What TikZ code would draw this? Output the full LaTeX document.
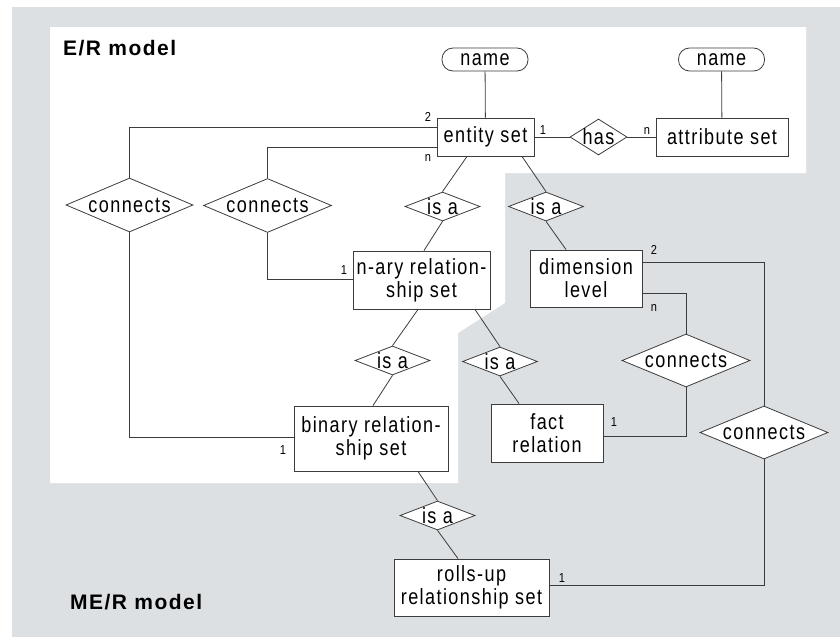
\documentclass[tikz,border=0pt]{standalone}
\usepackage{fontspec}
\setmainfont{Liberation Sans}
\newfontfamily\lsp[LetterSpace=6.5,FakeStretch=0.82]{Liberation Sans}
\newfontfamily\lsc[FakeStretch=0.85]{Liberation Sans}
\newfontfamily\lst[LetterSpace=7]{Liberation Sans}
\usetikzlibrary{shapes.geometric}
\definecolor{bggray}{RGB}{221,224,226}
\definecolor{ln}{RGB}{60,60,60}
\begin{document}
\begin{tikzpicture}[x=1pt,y=-1pt,
  txt/.style={font=\lsp\fontsize{22}{23}\selectfont},
  ebox/.style 2 args={rectangle, draw=ln, line width=0.9pt, fill=white, minimum width=#1, minimum height=#2, inner sep=0pt, align=center, txt},
  dia/.style 2 args={diamond, draw=ln, line width=0.8pt, fill=white, minimum width=#1, minimum height=#2, inner sep=0pt},
  pill/.style={rectangle, rounded corners=11pt, draw=ln, line width=0.8pt, fill=white, minimum width=86pt, minimum height=23pt, inner sep=0pt, txt},
  conn/.style={draw=ln, line width=0.8pt},
  card/.style={font=\lsc\fontsize{13}{14}\selectfont, inner sep=0pt},
  title/.style={font=\lst\fontsize{21}{24}\selectfont\bfseries, anchor=west, inner sep=0pt},
  dlab/.style={label={[txt,inner sep=0pt]center:#1}}
]
\useasboundingbox (0,0) rectangle (840,637);
\fill[bggray] (12,7) rectangle (840,637);
\fill[white] (50,27) -- (806,27) -- (806,173) -- (505,173) -- (505,303) -- (458,333) -- (458,483) -- (50,483) -- cycle;

\node[title] (ertitle) at (63,48) {E/R model};
\node[title] (mertitle) at (70,602) {ME/R model};

\node[pill] (name1) at (485,59.5) {name};
\node[pill] (name2) at (721.5,59.5) {name};
\node[ebox={97pt}{38pt}] (entity) at (485.5,137) {entity set};
\node[dia={57pt}{36pt}, dlab=has] (has) at (598.5,137) {};
\node[ebox={132pt}{38pt}] (attr) at (722,137) {attribute set};
\node[dia={127pt}{54pt}, dlab=connects] (conn1) at (129.5,205) {};
\node[dia={128pt}{54pt}, dlab=connects] (conn2) at (267.5,205.5) {};
\node[dia={75pt}{29pt}, dlab={is a}] (isa1) at (442.5,206.5) {};
\node[dia={75pt}{29pt}, dlab={is a}] (isa2) at (546,206.5) {};
\node[ebox={137pt}{58pt}] (nary) at (421.5,280) {n-ary relation-\\ship set};
\node[ebox={112pt}{57pt}] (dim) at (586,278.5) {dimension\\level};
\node[dia={75pt}{29pt}, dlab={is a}] (isa3) at (392.5,360.5) {};
\node[dia={75pt}{29pt}, dlab={is a}] (isa4) at (500,361.5) {};
\node[dia={128pt}{53pt}, dlab=connects] (conn3) at (686,360.5) {};
\node[ebox={154pt}{65pt}] (binary) at (371,438.5) {binary relation-\\ship set};
\node[ebox={112pt}{58pt}] (fact) at (547,433) {fact\\relation};
\node[dia={128pt}{53pt}, dlab=connects] (conn4) at (764,432.5) {};
\node[dia={75pt}{29pt}, dlab={is a}] (isa5) at (437.5,515.5) {};
\node[ebox={155pt}{57pt}] (rolls) at (471.5,587.5) {rolls-up\\relationship set};

% connectors
\draw[conn] (name1) -- (entity);
\draw[conn] (name2) -- (attr);
\draw[conn] (entity.east) -- (has.west);
\draw[conn] (has.east) -- (attr.west);
\draw[conn] (conn1.north) |- ([yshift=10pt]entity.west);
\draw[conn] (conn2.north) |- ([yshift=-10pt]entity.west);
\draw[conn] (conn1.south) |- ([yshift=1.5pt]binary.west);
\draw[conn] (conn2.south) |- ([yshift=1pt]nary.west);
\draw[conn] ([xshift=-18.5pt]entity.south) -- (isa1.north);
\draw[conn] ([xshift=36.5pt]entity.south) -- (isa2.north);
\draw[conn] (isa1.south) -- ([xshift=2.5pt]nary.north);
\draw[conn] (isa2.south) -- ([xshift=-20pt]dim.north);
\draw[conn] ([xshift=-3.5pt]nary.south) -- (isa3.north);
\draw[conn] (isa3.south) -- ([xshift=2pt]binary.north);
\draw[conn] ([xshift=53.5pt]nary.south) -- (isa4.north);
\draw[conn] (isa4.south) -- ([xshift=-28pt]fact.north);
\draw[conn] ([xshift=47pt]binary.south) -- (isa5.north);
\draw[conn] (isa5.south) -- ([xshift=-13.5pt]rolls.north);
\draw[conn] ([yshift=16.5pt]dim.east) -| (conn4.north);
\draw[conn] ([yshift=-14.5pt]dim.east) -| (conn3.north);
\draw[conn] ([yshift=-3pt]fact.east) -| (conn3.south);
\draw[conn] ([yshift=2.5pt]rolls.east) -| (conn4.south);

% cardinalities
\node[card] (k1) at (428,117) {2};
\node[card] (k2) at (428,158) {n};
\node[card] (k3) at (543,130) {1};
\node[card] (k4) at (647,131) {n};
\node[card] (k5) at (344,270) {1};
\node[card] (k6) at (283,450) {1};
\node[card] (k7) at (654,250) {2};
\node[card] (k8) at (654,308) {n};
\node[card] (k9) at (614,422) {1};
\node[card] (k10) at (562,578) {1};
\end{tikzpicture}
\end{document}
